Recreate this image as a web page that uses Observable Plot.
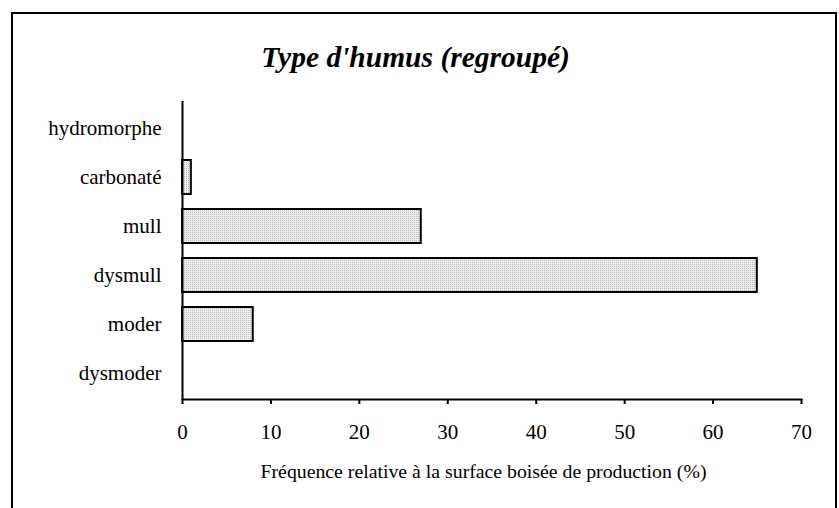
<!DOCTYPE html>
<html>
<head>
<meta charset="utf-8">
<script src="https://cdn.jsdelivr.net/npm/d3@7"></script>
<script src="https://cdn.jsdelivr.net/npm/@observablehq/plot@0.6"></script>
<style>
  html, body { margin: 0; padding: 0; background: #fff; overflow: hidden; }
  #wrap { position: relative; width: 839px; height: 508px; overflow: hidden; }
  #border { position: absolute; left: 11px; top: 12px; width: 826px; height: 600px; border: 2px solid #000; box-sizing: border-box; pointer-events: none; }
  #chart { position: absolute; left: 0; top: 0; }
</style>
</head>
<body>
<svg width="0" height="0" style="position:absolute">
  <defs>
    <pattern id="dots" width="2" height="2" patternUnits="userSpaceOnUse">
      <rect width="2" height="2" fill="#ececec"></rect>
      <rect width="1" height="1" fill="#bdbdbd"></rect>
    </pattern>
  </defs>
</svg>
<div id="wrap">
  <div id="chart"></div>
  <div id="border"></div>
</div>
<script>
const title = "Type d'humus (regroupé)";
const xLabel = "Fréquence relative à la surface boisée de production (%)";
const categories = ["hydromorphe", "carbonaté", "mull", "dysmull", "moder", "dysmoder"];
const values = [0, 1, 27, 65, 8, 0];
const xTicks = [0, 10, 20, 30, 40, 50, 60, 70];

const data = categories.map((c, i) => ({category: c, value: values[i]}));

const chart = Plot.plot({
  width: 839,
  height: 508,
  marginLeft: 182,
  marginRight: 38,
  marginTop: 101,
  marginBottom: 109,
  style: {fontFamily: "'Liberation Serif', 'Times New Roman', serif", background: "transparent", color: "#000"},
  x: {domain: [0, 70]},
  y: {domain: categories, paddingInner: 0.31, paddingOuter: 0.155, align: 0.5},
  marks: [
    Plot.barX(data, {x: "value", y: "category", fill: "url(#dots)", stroke: "#000", strokeWidth: 2}),
    Plot.ruleX([0], {stroke: "#000", strokeWidth: 2}),
    Plot.frame({anchor: "bottom", stroke: "#000", strokeWidth: 2}),
    Plot.axisX({ticks: xTicks, tickSize: 5, tickPadding: 20, fontSize: 21, label: null, strokeWidth: 2, tickFormat: d => String(d)}),
    Plot.axisY({tickSize: 0, tickPadding: 21, fontSize: 21, label: null}),
    Plot.text([title], {frameAnchor: "top", dy: -43.5, dx: -76.5, fontSize: 29.5, fontWeight: "bold", fontStyle: "italic", lineAnchor: "middle"}),
    Plot.text([xLabel], {frameAnchor: "bottom", dy: 72, dx: -8.5, fontSize: 19.8, lineAnchor: "middle"})
  ]
});
document.getElementById("chart").appendChild(chart);
</script>
</body>
</html>
